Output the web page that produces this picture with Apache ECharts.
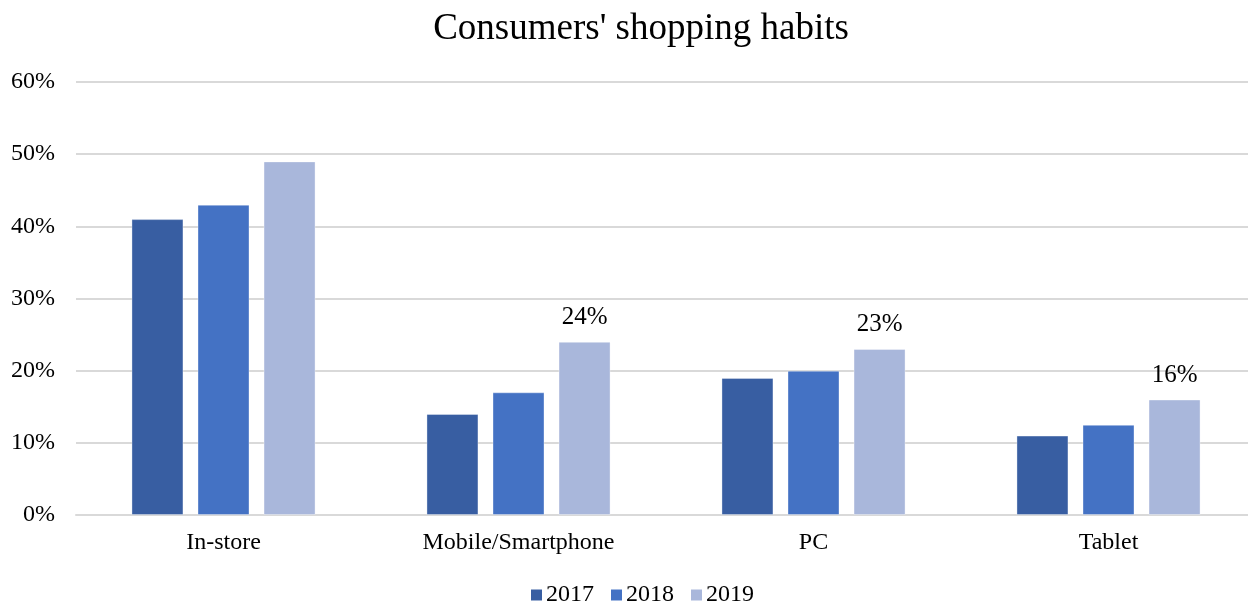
<!DOCTYPE html>
<html>
<head>
<meta charset="utf-8">
<script src="https://cdn.jsdelivr.net/npm/echarts@6/dist/echarts.min.js"></script>
<style>
  html, body { margin: 0; padding: 0; background: #fff; overflow: hidden; }
  #chart { width: 1260px; height: 604px; }
</style>
</head>
<body>
<div id="chart"></div>
<script>
// Share of consumers by shopping channel, per year (percent)
const categories = ['In-store', 'Mobile/Smartphone', 'PC', 'Tablet'];
const years = ['2017', '2018', '2019'];
const values2017 = [41, 14, 19, 11];
const values2018 = [43, 17, 20, 12.5];
const values2019 = [49, 24, 23, 16];
// channels whose 2019 value is printed above the bar
const labeled2019 = ['Mobile/Smartphone', 'PC', 'Tablet'];
const yTicks = [0, 10, 20, 30, 40, 50, 60];

const colors = ['#385EA2', '#4472C4', '#A9B7DB'];
const FONT = '"Liberation Serif", "Times New Roman", serif';

const chart = echarts.init(document.getElementById('chart'), null, { renderer: 'canvas' });

function makeSeries(name, values, color, labeledCats) {
  return {
    name: name,
    type: 'bar',
    barWidth: 52,
    barGap: '27%',
    itemStyle: { color: color, borderColor: 'rgba(255,255,255,0.35)', borderWidth: 1 },
    data: values.map((v, i) => {
      const show = labeledCats.indexOf(categories[i]) !== -1;
      return {
        value: v,
        label: {
          show: show,
          position: 'top',
          distance: 12,
          formatter: (p) => p.value + '%',
          color: '#000',
          fontFamily: FONT,
          fontSize: 25
        }
      };
    })
  };
}

chart.setOption({
  animation: false,
  color: colors,
  title: {
    text: "Consumers' shopping habits",
    left: 636,
    textAlign: 'center',
    top: 6,
    textStyle: { fontFamily: FONT, fontSize: 37, fontWeight: 'normal', color: '#000' }
  },
  legend: {
    data: years,
    left: 526,
    top: 578,
    itemWidth: 11,
    itemHeight: 11,
    itemGap: 17,
    icon: 'rect',
    itemStyle: { borderWidth: 0 },
    textStyle: { fontFamily: FONT, fontSize: 24, color: '#000', padding: [0, 0, 0, -1] }
  },
  grid: { left: 76, top: 82, width: 1180, height: 433 },
  xAxis: {
    type: 'category',
    data: categories,
    axisLine: { show: true, lineStyle: { color: '#d9d9d9', width: 2 } },
    axisTick: { show: false },
    axisLabel: { margin: 16, fontFamily: FONT, fontSize: 24, color: '#000' }
  },
  yAxis: {
    type: 'value',
    min: yTicks[0],
    max: yTicks[yTicks.length - 1],
    interval: yTicks[1] - yTicks[0],
    axisLine: { show: false },
    axisTick: { show: false },
    axisLabel: { margin: 21, fontFamily: FONT, fontSize: 24, color: '#000', formatter: '{value}%' },
    splitLine: { lineStyle: { color: '#d9d9d9', width: 2 } }
  },
  series: [
    makeSeries(years[0], values2017, colors[0], []),
    makeSeries(years[1], values2018, colors[1], []),
    makeSeries(years[2], values2019, colors[2], labeled2019)
  ]
});
</script>
</body>
</html>
